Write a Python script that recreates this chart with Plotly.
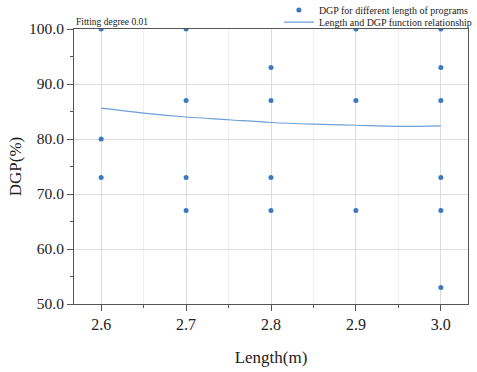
import plotly.graph_objects as go

# scatter data
pt_x = [2.6, 2.6, 2.6,
        2.7, 2.7, 2.7, 2.7,
        2.8, 2.8, 2.8, 2.8,
        2.9, 2.9, 2.9,
        3.0, 3.0, 3.0, 3.0, 3.0, 3.0]
pt_y = [100, 80, 73,
        100, 87, 73, 67,
        93, 87, 73, 67,
        100, 87, 67,
        100, 93, 87, 73, 67, 53]

# fitted curve
fit_x = [2.6, 2.65, 2.7, 2.75, 2.8, 2.85, 2.9, 2.95, 3.0]
fit_y = [85.6, 84.7, 84.0, 83.5, 83.0, 82.7, 82.5, 82.3, 82.4]

x_ticks = [2.6, 2.7, 2.8, 2.9, 3.0]
y_ticks = [50, 60, 70, 80, 90, 100]

serif = "Liberation Serif"

fig = go.Figure()
fig.add_trace(go.Scatter(x=pt_x, y=pt_y, mode="markers",
                         marker=dict(size=5, color="#3b78c2"),
                         name="DGP for different length of programs", legend="legend"))
fig.add_trace(go.Scatter(x=fit_x, y=fit_y, mode="lines", line_shape="spline",
                         line=dict(color="#6d9fd8", width=1.2),
                         name="Length and DGP function relationship", legend="legend2"))

leg_common = dict(xanchor="left", yanchor="middle", font=dict(size=10, family=serif),
                  bgcolor="rgba(0,0,0,0)", itemwidth=30)

fig.update_layout(
    width=477, height=372,
    margin=dict(l=74, r=9, t=29, b=68, autoexpand=False),
    paper_bgcolor="white", plot_bgcolor="white",
    font=dict(family=serif, color="#222222"),
    showlegend=True,
    legend=dict(x=0.52, y=1.069, **leg_common),
    legend2=dict(x=0.52, y=1.025, **leg_common),
    annotations=[dict(text="Fitting degree 0.01", x=0, y=1.0, xref="paper", yref="paper",
                      xanchor="left", yanchor="bottom", showarrow=False,
                      font=dict(size=9.5, family=serif))],
)
fig.update_xaxes(range=[2.568, 3.032], tickvals=x_ticks,
                 ticktext=[f"{v:.1f}" for v in x_ticks],
                 showline=True, linecolor="#555555", linewidth=1, mirror=True,
                 ticks="outside", ticklen=6, tickcolor="#555555",
                 showgrid=True, gridcolor="#dddddd", gridwidth=1,
                 minor=dict(dtick=0.05, tick0=2.55, showgrid=True, gridcolor="#f0f0f0",
                            ticks="outside", ticklen=3, tickcolor="#555555"),
                 tickfont=dict(size=16, family=serif),
                 title=dict(text="Length(m)", font=dict(size=17, family=serif), standoff=18),
                 zeroline=False)
fig.update_yaxes(range=[50, 100], tickvals=y_ticks,
                 ticktext=[f"{v:.1f}" for v in y_ticks],
                 showline=True, linecolor="#555555", linewidth=1, mirror=True,
                 ticks="outside", ticklen=6, tickcolor="#555555",
                 showgrid=True, gridcolor="#dddddd", gridwidth=1,
                 minor=dict(dtick=5, tick0=45, showgrid=False,
                            ticks="outside", ticklen=3, tickcolor="#555555"),
                 tickfont=dict(size=15.5, family=serif),
                 title=dict(text="DGP(%)", font=dict(size=17, family=serif), standoff=3),
                 zeroline=False)

fig.write_html("out.html", config={"displayModeBar": False},
               post_script="document.body.style.margin='0';")
